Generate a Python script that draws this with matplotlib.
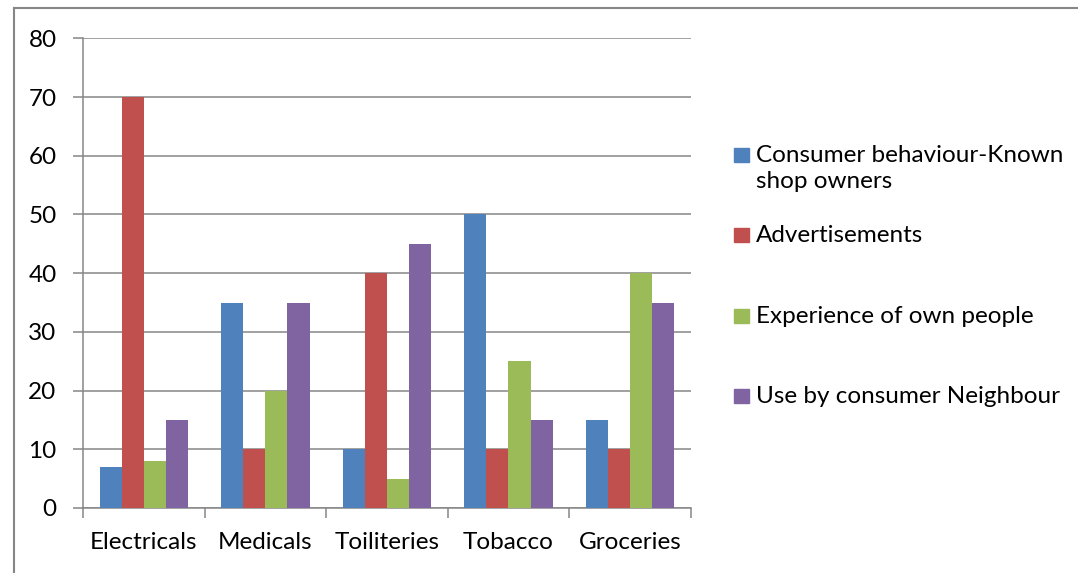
import numpy as np
import matplotlib.pyplot as plt
from matplotlib.patches import Rectangle
from matplotlib.lines import Line2D

# Kategorien und Werte je Reihe
categories = ['Electricals', 'Medicals', 'Toiliteries', 'Tobacco', 'Groceries']
known_shop = [7, 35, 10, 50, 15]
adverts = [70, 10, 40, 10, 10]
own_people = [8, 20, 5, 25, 40]
neighbour = [15, 35, 45, 15, 35]

series = [known_shop, adverts, own_people, neighbour]
labels = ['Consumer behaviour-Known\nshop owners', 'Advertisements',
          'Experience of own people', 'Use by consumer Neighbour']
colors = ['#4F81BD', '#C0504D', '#9BBB59', '#8064A2']

plt.rcParams['font.family'] = ['Lato', 'DejaVu Sans']
grey = '#868686'
fs = 17.5

W, H = 1078, 573
fig = plt.figure(figsize=(W / 100, H / 100), dpi=100)
ax = fig.add_axes([83 / W, 1 - 508 / H, (690.7 - 83) / W, (508 - 38.4) / H])

x = np.arange(len(categories))
bw = 0.182
for i, (vals, c) in enumerate(zip(series, colors)):
    ax.bar(x + (i - 1.5) * bw, vals, bw, color=c, linewidth=0, zorder=3)

ax.set_xlim(-0.5, len(categories) - 0.5)
ax.set_ylim(0, 80)
ax.set_yticks(range(0, 81, 10))
ax.yaxis.grid(True, color=grey, linewidth=1.1, zorder=0)

ax.set_xticks(x)
ax.set_xticklabels(categories)
ax.set_xticks(np.arange(-0.5, len(categories)), minor=True)
ax.tick_params(axis='x', which='major', length=0, pad=17, labelsize=fs)
ax.tick_params(axis='x', which='minor', length=7, width=1.1, color=grey, direction='out')
ax.tick_params(axis='y', length=7, width=1.1, color=grey, direction='out', pad=12, labelsize=fs)

for s in ['top', 'right']:
    ax.spines[s].set_visible(False)
for s in ['left', 'bottom']:
    ax.spines[s].set_color(grey)
    ax.spines[s].set_linewidth(1.1)

# Legende rechts
leg_y = [155, 235, 316, 396]
for lab, c, yy in zip(labels, colors, leg_y):
    fig.patches.append(Rectangle((734 / W, 1 - (yy + 7) / H), 15 / W, 14 / H,
                                 transform=fig.transFigure, color=c))
    fig.text(756 / W, 1 - (yy - 10) / H, lab, fontsize=fs, va='top', ha='left',
             linespacing=1.3)

# Rahmen oben und links
fig.add_artist(Line2D([13.5 / W, 1], [1 - 8 / H, 1 - 8 / H], color=grey, linewidth=1.5))
fig.add_artist(Line2D([13.5 / W, 13.5 / W], [0, 1 - 8 / H], color=grey, linewidth=1.5))

fig.savefig('out.png', dpi=100)
